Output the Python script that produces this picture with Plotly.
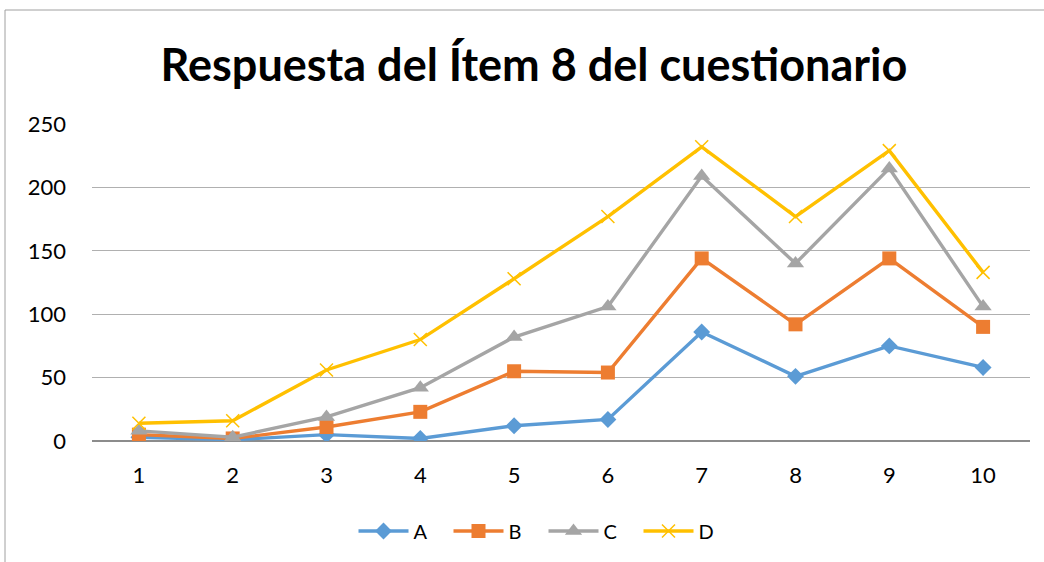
import plotly.graph_objects as go

categories = ["1", "2", "3", "4", "5", "6", "7", "8", "9", "10"]
serie_a = [3, 1, 5, 2, 12, 17, 86, 51, 75, 58]
serie_b = [5, 2, 11, 23, 55, 54, 144, 92, 144, 90]
serie_c = [8, 3, 19, 42, 82, 106, 209, 140, 215, 106]
serie_d = [14, 16, 56, 80, 128, 177, 232, 177, 229, 133]
y_ticks = [0, 50, 100, 150, 200, 250]

series = [
    ("A", serie_a, "#5B9BD5", dict(symbol="diamond", size=13)),
    ("B", serie_b, "#ED7D31", dict(symbol="square", size=14)),
    ("C", serie_c, "#A5A5A5", dict(symbol="triangle-up", size=15)),
    ("D", serie_d, "#FFC000", dict(symbol="x-thin", size=13, line=dict(width=1.5, color="#FFC000"))),
]

fig = go.Figure()
for name, vals, color, mk in series:
    fig.add_trace(go.Scatter(
        x=categories, y=vals, name=name, mode="lines+markers",
        line=dict(color=color, width=3.4),
        marker=dict(color=color, **mk),
    ))

L, R, T, B = 92, 14, 124, 121
W, H = 1044, 562
pw, ph = W - L - R, H - T - B

fig.update_layout(
    width=W, height=H,
    margin=dict(l=L, r=R, t=T, b=B, autoexpand=False),
    paper_bgcolor="white", plot_bgcolor="white",
    font=dict(family="Lato, Calibri, sans-serif", size=20, color="black"),
    title=dict(text="<b>Respuesta del Ítem 8 del cuestionario</b>",
               x=534 / W, xanchor="center", y=1 - 65 / H, yanchor="middle",
               font=dict(size=45, family="Lato, Calibri, sans-serif", color="black")),
    showlegend=True,
    legend=dict(orientation="h", x=((363 + 712) / 2 + 6 - L) / pw, xanchor="center",
                y=-(531 - 441) / ph, yanchor="middle",
                font=dict(size=20), itemwidth=50, tracegroupgap=0,
                entrywidth=30, entrywidthmode="pixels"),
    xaxis=dict(type="category", range=[-0.5, 9.5], showgrid=False, showline=False,
               ticks="", tickfont=dict(size=22), ticklabelstandoff=19),
    yaxis=dict(range=[0, 250], tickvals=y_ticks, showgrid=True, gridcolor="#B0B0B0", gridwidth=1,
               zeroline=True, zerolinecolor="#8C8C8C", zerolinewidth=2, showline=False,
               ticks="", tickfont=dict(size=22), ticklabelstandoff=25),
    shapes=[
        dict(type="line", xref="paper", yref="paper",
             x0=(5 - L) / pw, x1=(W - L) / pw, y0=(441 - 10) / ph, y1=(441 - 10) / ph,
             line=dict(color="#A0A0A0", width=1)),
        dict(type="line", xref="paper", yref="paper",
             x0=(5 - L) / pw, x1=(5 - L) / pw, y0=-(H - 441) / ph, y1=(441 - 10) / ph,
             line=dict(color="#A0A0A0", width=1)),
    ],
)

fig.write_html("out.html", config={"displayModeBar": False},
               post_script="document.body.style.margin='0';")
